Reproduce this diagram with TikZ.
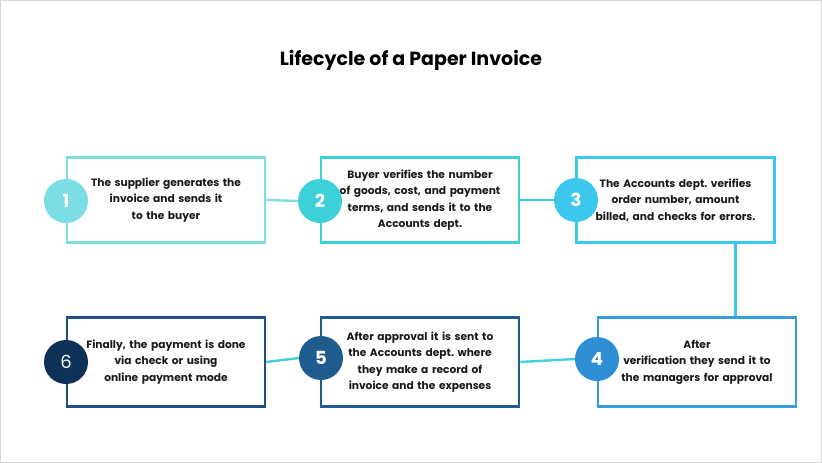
\documentclass[tikz,border=0pt]{standalone}
\usepackage{fontspec}
\setmainfont{Poppins}
\frenchspacing
\usetikzlibrary{calc}
\definecolor{cA}{HTML}{7CDDE5}
\definecolor{cB}{HTML}{3CD0D8}
\definecolor{cC}{HTML}{3CC8EC}
\definecolor{cD}{HTML}{3A9BDC}
\definecolor{cDc}{HTML}{2E8FD6}
\definecolor{cE}{HTML}{1E5B8F}
\definecolor{cF}{HTML}{1F4F82}
\definecolor{cFc}{HTML}{0E3157}
\definecolor{link}{HTML}{45D0DA}
\definecolor{frame}{HTML}{D6D6D6}
\tikzset{
  stepbox/.style={draw=#1, line width=2.6pt, fill=white, minimum width=198pt, minimum height=85pt,
    text width=194pt, align=center, inner sep=0pt,
    font=\fontsize{10.65}{16.5}\selectfont\bfseries, text=black!90},
  numdot/.style={circle, fill=#1, minimum size=44pt, inner sep=0pt, text=white,
    font=\fontsize{18}{18}\selectfont},
  linkline/.style={draw=#1, line width=2.4pt}
}
\begin{document}
\begin{tikzpicture}[x=1pt,y=-1pt]
\path[draw=frame, line width=1.2pt, fill=white] (0.6,0.6) rectangle (821.4,462.4);
\useasboundingbox (0,0) rectangle (822,463);
\node[font=\fontsize{19}{21}\selectfont\bfseries] (title) at (411,60) {Lifecycle of a Paper Invoice};

\node[stepbox=cA] (b1) at (166,200) {The supplier generates the\\ invoice and sends it\\ to the buyer};
\node[stepbox=cB] (b2) at (420,200) {Buyer verifies the number\\ of goods, cost, and payment\\ terms, and sends it to the\\ Accounts dept.};
\node[stepbox=cC] (b3) at (675.5,200) {The Accounts dept. verifies\\ order number, amount\\ billed, and checks for errors.};
\node[stepbox=cD, minimum height=89pt] (b4) at (697,362) {After\\ verification they send it to\\ the managers for approval};
\node[stepbox=cE, minimum height=89pt] (b5) at (420,362) {After approval it is sent to\\ the Accounts dept. where\\ they make a record of\\ invoice and the expenses};
\node[stepbox=cF, minimum height=89pt] (b6) at (166,362) {Finally, the payment is done\\ via check or using\\ online payment mode};

\node[numdot=cA] (c1) at (66,201) {\bfseries 1};
\node[numdot=cB] (c2) at (320,201) {\bfseries 2};
\node[numdot=cC] (c3) at (576,200) {\bfseries 3};
\node[numdot=cDc] (c4) at (597,359) {\bfseries 4};
\node[numdot=cE] (c5) at (321,358) {\bfseries 5};
\node[numdot=cFc] (c6) at (66,362) {6};

\coordinate (d3) at ($(b3.south west)!0.80!(b3.south east)$);
\draw[linkline=cA] (b1.east) -- (c2.west);
\draw[linkline=cC] (b2.east) -- (c3.west);
\draw[linkline=cC] (d3) -- (d3 |- b4.north);
\draw[linkline=link] (c4.west) -- (b5.east);
\draw[linkline=link] (c5.west) -- (b6.east);
\end{tikzpicture}
\end{document}
